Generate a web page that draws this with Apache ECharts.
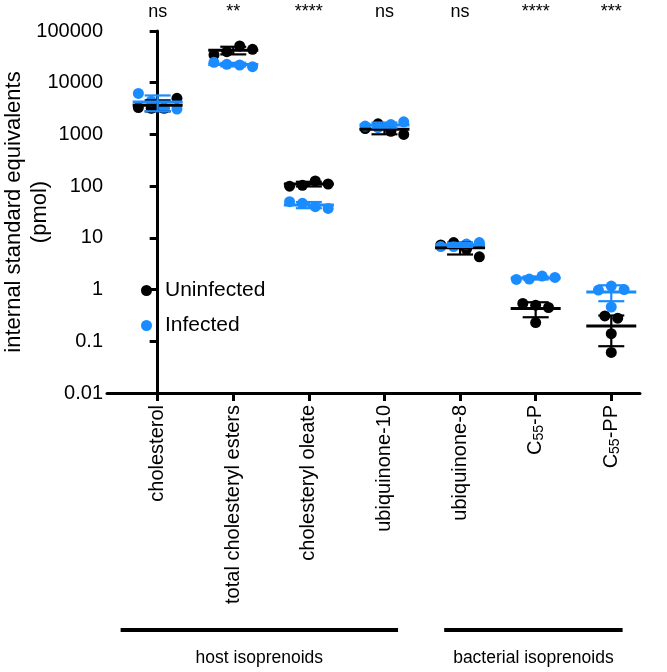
<!DOCTYPE html>
<html>
<head>
<meta charset="utf-8">
<script src="https://cdn.jsdelivr.net/npm/echarts@6/dist/echarts.min.js"></script>
<style>html,body{margin:0;padding:0;background:#fff}#c{width:667px;height:672px}</style>
</head>
<body>
<div id="c"></div>
<script>
const categories = ['cholesterol', 'total cholesteryl esters', 'cholesteryl oleate', 'ubiquinone-10', 'ubiquinone-8', 'C55-P', 'C55-PP'];
const significance = ['ns', '**', '****', 'ns', 'ns', '****', '***'];
const uninfected = [
  [3300, 3200, 3200, 5000],
  [34400, 39800, 51300, 44300],
  [100, 104, 126, 110],
  [1300, 1600, 1150, 1000],
  [7.3, 8.1, 6.0, 4.3],
  [0.54, 0.50, 0.45, 0.23],
  [0.31, 0.28, 0.14, 0.061]
];
const infected = [
  [6200, 4400, 3250, 3100],
  [24800, 22700, 22000, 20400],
  [50, 46.5, 40, 37],
  [1450, 1350, 1550, 1750],
  [6.8, 6.8, 7.6, 8.1],
  [1.57, 1.6, 1.82, 1.72],
  [0.98, 1.17, 1.0, 0.46]
];
const groups = [
  { name: 'host isoprenoids', from: 0, to: 3 },
  { name: 'bacterial isoprenoids', from: 4, to: 6 }
];
const seriesNames = ['Uninfected', 'Infected'];

const BLACK = '#000000', BLUE = '#1a8cff';
const FONT = 'Liberation Sans, Arial, sans-serif';
const X_MIN = -0.67, X_MAX = 6.38;
const SLOT = 0.17;      // horizontal spacing of dots in category units
const CLUSTER = 0.21;   // log10 distance under which dots are spread side by side

function swarm(values, ci) {
  const order = values.map((v, i) => i).sort((a, b) => values[b] - values[a]);
  const clusters = [];
  let cur = [];
  order.forEach((idx, k) => {
    if (k > 0 && Math.log10(values[order[k - 1]]) - Math.log10(values[idx]) > CLUSTER) {
      clusters.push(cur); cur = [];
    }
    cur.push(idx);
  });
  clusters.push(cur);
  const out = [];
  clusters.forEach(cl => {
    cl.sort((a, b) => a - b);
    cl.forEach((idx, j) => out.push([ci + (j - (cl.length - 1) / 2) * SLOT, values[idx]]));
  });
  return out;
}
function stats(values) {
  const n = values.length;
  const m = values.reduce((a, b) => a + b, 0) / n;
  const sd = Math.sqrt(values.reduce((a, b) => a + (b - m) * (b - m), 0) / (n - 1));
  return [m, sd];
}
function pointsOf(set) {
  const res = [];
  set.forEach((vals, ci) => swarm(vals, ci).forEach(p => res.push(p)));
  return res;
}
function summaryOf(set) {
  return set.map((vals, ci) => { const s = stats(vals); return [ci, s[0], s[1]]; });
}
function meanSdRender(color) {
  return function (params, api) {
    const ci = api.value(0), m = api.value(1), sd = api.value(2);
    const c = api.coord([ci, m]);
    const top = api.coord([ci, m + sd]);
    const lowV = m - sd > 0.0101 ? m - sd : 0.0101;
    const bot = api.coord([ci, lowV]);
    const st = { stroke: color, lineWidth: 2.2 };
    const children = [
      { type: 'line', shape: { x1: c[0] - 25, y1: c[1], x2: c[0] + 25, y2: c[1] }, style: { stroke: color, lineWidth: 3 } },
      { type: 'line', shape: { x1: c[0], y1: top[1], x2: c[0], y2: bot[1] }, style: st },
      { type: 'line', shape: { x1: c[0] - 13, y1: top[1], x2: c[0] + 13, y2: top[1] }, style: st }
    ];
    if (m - sd > 0.0101) children.push({ type: 'line', shape: { x1: c[0] - 13, y1: bot[1], x2: c[0] + 13, y2: bot[1] }, style: st });
    return { type: 'group', children: children };
  };
}
function catLabel(v) {
  const i = Math.round(v);
  const name = categories[i];
  if (name && name.indexOf('C55') === 0) {
    return '{n|C}{s|55}{n|' + name.slice(3) + '}';
  }
  return '{n|' + name + '}';
}

const chart = echarts.init(document.getElementById('c'), null, { renderer: 'canvas' });
const catIdx = categories.map((c, i) => i);
chart.setOption({
  animation: false,
  textStyle: { fontFamily: FONT, color: '#000' },
  grid: { left: 107, top: 31, width: 533, height: 362, containLabel: false, outerBoundsMode: 'none' },
  legend: {
    orient: 'vertical', left: 136, top: 275, itemGap: 14,
    icon: 'circle', itemWidth: 11, itemHeight: 11,
    textStyle: { fontSize: 21, color: '#000', fontFamily: FONT, padding: [0, 0, 0, 8] },
    data: seriesNames
  },
  xAxis: [{
    type: 'value', min: X_MIN, max: X_MAX, position: 'bottom',
    splitLine: { show: false },
    axisLine: { show: true, lineStyle: { color: '#000', width: 3 } },
    axisTick: { show: true, customValues: catIdx, length: 8, lineStyle: { color: '#000', width: 3 } },
    axisLabel: {
      customValues: catIdx, rotate: 90, margin: 12, formatter: catLabel,
      rich: {
        n: { fontSize: 20, fontFamily: FONT, color: '#000', lineHeight: 21 },
        s: { fontSize: 14, fontFamily: FONT, color: '#000', lineHeight: 14, verticalAlign: 'bottom' }
      }
    }
  }, {
    type: 'value', min: X_MIN, max: X_MAX, position: 'top',
    splitLine: { show: false },
    axisLine: { show: false }, axisTick: { show: false },
    axisLabel: {
      customValues: catIdx, margin: 10, fontSize: 18, color: '#000', fontFamily: FONT,
      formatter: v => significance[Math.round(v)]
    }
  }],
  yAxis: {
    type: 'log', logBase: 10, min: 0.01, max: 100000,
    name: 'internal standard equivalents\n(pmol)', nameLocation: 'middle', nameGap: 54,
    nameMoveOverlap: false,
    nameTextStyle: { fontSize: 22, color: '#000', fontFamily: FONT, lineHeight: 26 },
    splitLine: { show: false }, minorTick: { show: false },
    axisLine: { show: true, lineStyle: { color: '#000', width: 3 } },
    axisTick: { show: true, length: 8, lineStyle: { color: '#000', width: 3 } },
    axisLabel: { fontSize: 20, color: '#000', margin: 4, fontFamily: FONT, formatter: v => String(Number(Number(v).toPrecision(3))) }
  },
  series: [
    { name: seriesNames[0], type: 'scatter', symbol: 'circle', symbolSize: 11, itemStyle: { color: BLACK, opacity: 1 }, data: pointsOf(uninfected), z: 2 },
    { name: seriesNames[1], type: 'scatter', symbol: 'circle', symbolSize: 11, itemStyle: { color: BLUE, opacity: 1 }, data: pointsOf(infected), z: 3 },
    { name: seriesNames[0], type: 'custom', renderItem: meanSdRender(BLACK), data: summaryOf(uninfected), z: 4, encode: { x: 0, y: 1 } },
    { name: seriesNames[1], type: 'custom', renderItem: meanSdRender(BLUE), data: summaryOf(infected), z: 5, encode: { x: 0, y: 1 } }
  ]
});

// group brackets under the category labels
const LINE_Y = 630, TEXT_Y = 658;
const gr = [];
groups.forEach((g, k) => {
  const x1 = chart.convertToPixel({ xAxisIndex: 0 }, g.from - (k === 0 ? 0.49 : 0.21));
  const x2 = chart.convertToPixel({ xAxisIndex: 0 }, g.to + (k === 0 ? 0.18 : 0.15));
  gr.push({ type: 'line', shape: { x1: x1, y1: LINE_Y, x2: x2, y2: LINE_Y }, style: { stroke: '#000', lineWidth: 4 } });
  gr.push({ type: 'text', x: (x1 + x2) / 2, y: TEXT_Y, style: { text: g.name, fontSize: 17.5, fontFamily: FONT, fill: '#000', align: 'center', verticalAlign: 'middle' } });
});
chart.setOption({ graphic: gr });
</script>
</body>
</html>
